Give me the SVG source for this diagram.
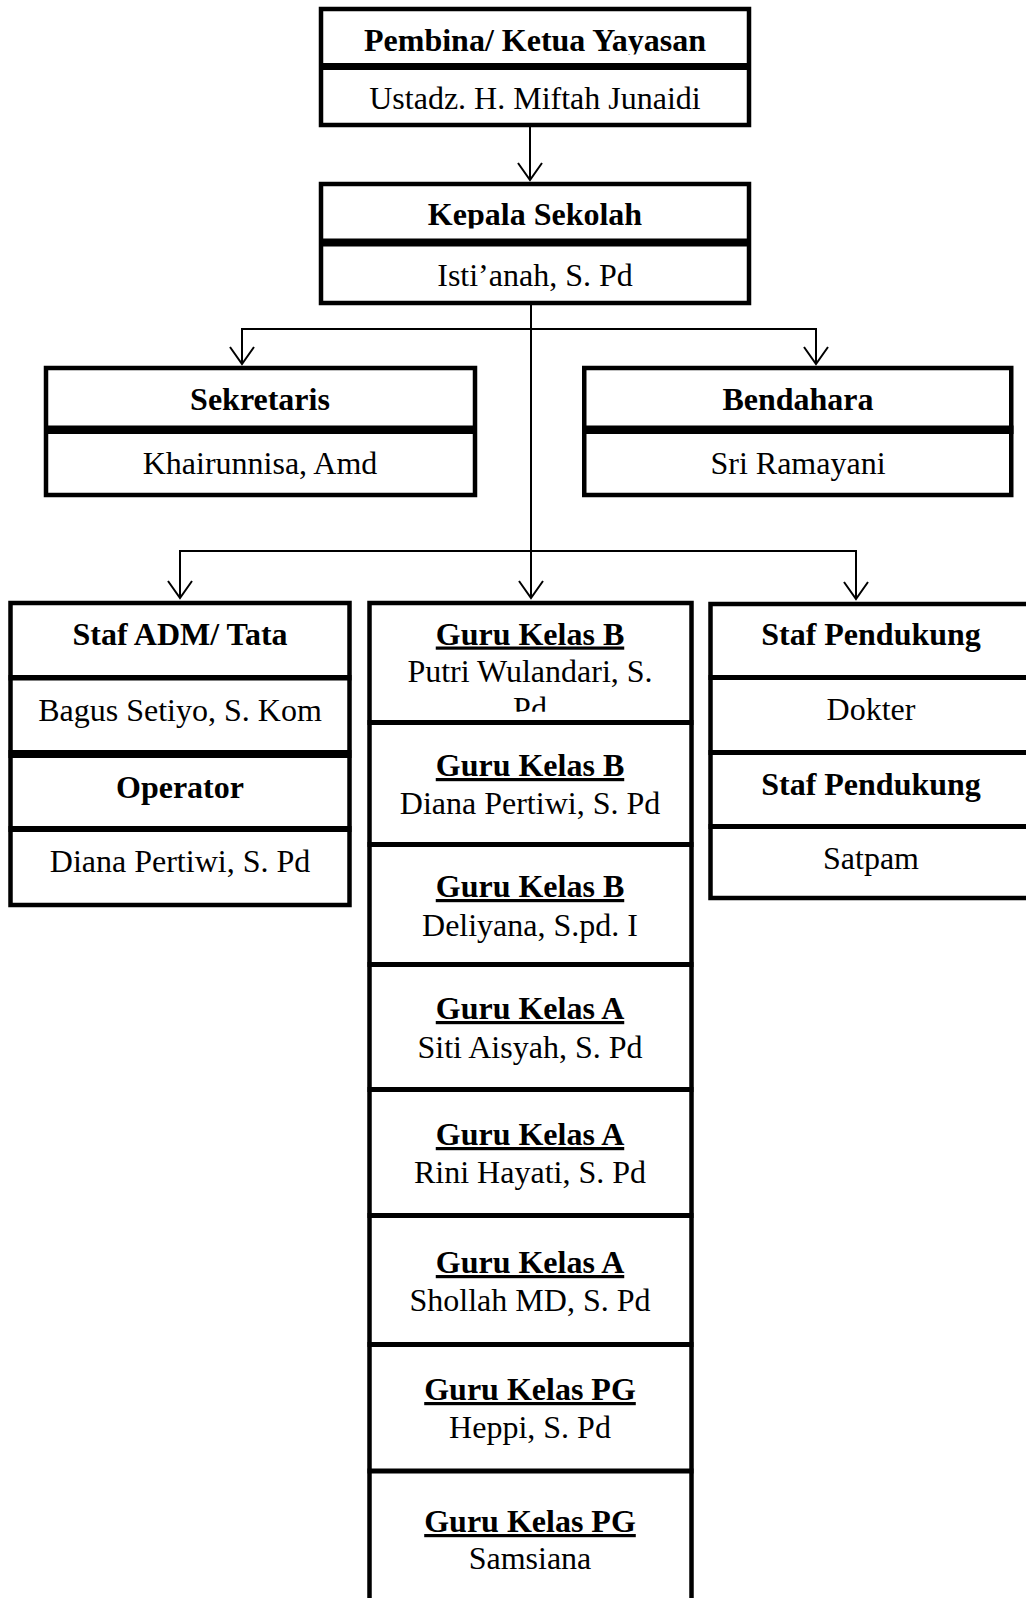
<svg xmlns="http://www.w3.org/2000/svg" width="1026" height="1598" viewBox="0 0 1026 1598">
<style>
.box{fill:#fff;stroke:#000;stroke-width:4.5}
.dv{fill:#000}
.t{font-family:"Liberation Serif","Times New Roman",serif;font-size:32px;text-anchor:middle;fill:#000}
.b{font-weight:bold}
.u{text-decoration:underline}
.c{fill:none;stroke:#000;stroke-width:2}
</style>
<defs>
<marker id="arr" markerUnits="userSpaceOnUse" markerWidth="20" markerHeight="28" refX="0" refY="0" orient="auto" overflow="visible">
<path d="M-17,-12 L0,0 L-17,12" fill="none" stroke="#000" stroke-width="2"/>
</marker>
<clipPath id="cp1"><rect x="318" y="0" width="434" height="54.5"/></clipPath>
<clipPath id="cp2"><rect x="318" y="180" width="434" height="48.5"/></clipPath>
<clipPath id="cp3"><rect x="367" y="600" width="326" height="111.7"/></clipPath>
</defs>
<rect width="1026" height="1598" fill="#fff"/>

<g id="connectors">
<path class="c" d="M530,127 V180" marker-end="url(#arr)"/>
<path class="c" d="M531,305 V598" marker-end="url(#arr)"/>
<path class="c" d="M531,329 H242 V364" marker-end="url(#arr)"/>
<path class="c" d="M531,329 H816 V364" marker-end="url(#arr)"/>
<path class="c" d="M531,551 H180 V598" marker-end="url(#arr)"/>
<path class="c" d="M531,551 H856 V599" marker-end="url(#arr)"/>
</g>

<g id="n-pembina">
<rect class="box" x="321" y="9" width="428" height="116"/>
<rect class="dv" x="319" y="63" width="432" height="7"/>
<text class="t b" x="535" y="51" clip-path="url(#cp1)">Pembina/ Ketua Yayasan</text>
<text class="t" x="535" y="109">Ustadz. H. Miftah Junaidi</text>
</g>

<g id="n-kepala">
<rect class="box" x="321" y="184" width="428" height="119"/>
<rect class="dv" x="319" y="238.5" width="432" height="8"/>
<text class="t b" x="535" y="225" clip-path="url(#cp2)">Kepala Sekolah</text>
<text class="t" x="535" y="286">Isti’anah, S. Pd</text>
</g>

<g id="n-sekretaris">
<rect class="box" x="46" y="368" width="429" height="127"/>
<rect class="dv" x="44" y="425.5" width="433" height="8.5"/>
<text class="t b" x="260" y="410">Sekretaris</text>
<text class="t" x="260" y="474">Khairunnisa, Amd</text>
</g>

<g id="n-bendahara">
<rect class="box" x="584.25" y="368" width="427" height="127"/>
<rect class="dv" x="582" y="425.5" width="431.5" height="8.5"/>
<text class="t b" x="798" y="410">Bendahara</text>
<text class="t" x="798" y="474">Sri Ramayani</text>
</g>

<g id="n-staf-adm">
<rect class="box" x="10.5" y="603" width="339" height="302"/>
<rect class="dv" x="8.5" y="675" width="343" height="5.5"/>
<rect class="dv" x="8.5" y="750" width="343" height="8"/>
<rect class="dv" x="8.5" y="826" width="343" height="6"/>
<text class="t b" x="180" y="645">Staf ADM/ Tata</text>
<text class="t" x="180" y="720.5">Bagus Setiyo, S. Kom</text>
<text class="t b" x="180" y="797.5">Operator</text>
<text class="t" x="180" y="871.5">Diana Pertiwi, S. Pd</text>
</g>

<g id="n-guru">
<rect class="box" x="369.5" y="603" width="322" height="1100"/>
<rect class="dv" x="367.5" y="720" width="326" height="5"/>
<rect class="dv" x="367.5" y="842" width="326" height="5"/>
<rect class="dv" x="367.5" y="962" width="326" height="5"/>
<rect class="dv" x="367.5" y="1087" width="326" height="5"/>
<rect class="dv" x="367.5" y="1213" width="326" height="5"/>
<rect class="dv" x="367.5" y="1342" width="326" height="5"/>
<rect class="dv" x="367.5" y="1468.5" width="326" height="5"/>
<g id="n-guru-b1">
<text class="t b u" x="530" y="644.5">Guru Kelas B</text>
<text class="t" x="530" y="682" clip-path="url(#cp3)"><tspan x="530">Putri Wulandari, S.</tspan><tspan x="530" dy="37">Pd</tspan></text>
</g>
<g id="n-guru-b2">
<text class="t b u" x="530" y="776">Guru Kelas B</text>
<text class="t" x="530" y="814">Diana Pertiwi, S. Pd</text>
</g>
<g id="n-guru-b3">
<text class="t b u" x="530" y="897">Guru Kelas B</text>
<text class="t" x="530" y="935.5">Deliyana, S.pd. I</text>
</g>
<g id="n-guru-a1">
<text class="t b u" x="530" y="1019">Guru Kelas A</text>
<text class="t" x="530" y="1058">Siti Aisyah, S. Pd</text>
</g>
<g id="n-guru-a2">
<text class="t b u" x="530" y="1145">Guru Kelas A</text>
<text class="t" x="530" y="1183">Rini Hayati, S. Pd</text>
</g>
<g id="n-guru-a3">
<text class="t b u" x="530" y="1273">Guru Kelas A</text>
<text class="t" x="530" y="1311">Shollah MD, S. Pd</text>
</g>
<g id="n-guru-pg1">
<text class="t b u" x="530" y="1400">Guru Kelas PG</text>
<text class="t" x="530" y="1438">Heppi, S. Pd</text>
</g>
<g id="n-guru-pg2">
<text class="t b u" x="530" y="1532">Guru Kelas PG</text>
<text class="t" x="530" y="1569">Samsiana</text>
</g>
</g>

<g id="n-staf-pendukung">
<rect class="box" x="710.5" y="604" width="322" height="294"/>
<rect class="dv" x="708.5" y="675" width="326" height="5"/>
<rect class="dv" x="708.5" y="750" width="326" height="5"/>
<rect class="dv" x="708.5" y="824" width="326" height="5"/>
<text class="t b" x="871" y="645">Staf Pendukung</text>
<text class="t" x="871" y="720">Dokter</text>
<text class="t b" x="871" y="795">Staf Pendukung</text>
<text class="t" x="871" y="869">Satpam</text>
</g>
</svg>
